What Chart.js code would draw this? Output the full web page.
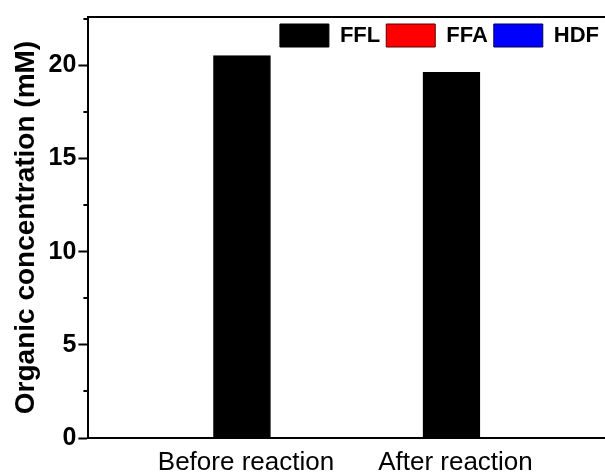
<!DOCTYPE html>
<html>
<head>
<meta charset="utf-8">
<script src="https://cdn.jsdelivr.net/npm/chart.js@4.4.1/dist/chart.umd.min.js"></script>
<style>
  html, body { margin: 0; padding: 0; background: #fff; overflow: hidden; }
  #wrap { width: 605px; height: 476px; }
</style>
</head>
<body>
<div id="wrap"><canvas id="c" width="605" height="476"></canvas></div>
<script>
// ---- data ----
const categories = ["Before reaction", "After reaction"];
const categoryPositions = [1, 2];
const seriesNames = ["FFL", "FFA", "HDF"];
const ffl = [20.53, 19.63];
const ffa = [0, 0];
const hdf = [0, 0];
const yMajorTicks = [0, 5, 10, 15, 20];
const yTitle = "Organic concentration (mM)";

const FONT = "'Liberation Sans', Arial, sans-serif";

function pts(vals) {
  return vals.map((v, i) => ({ x: categoryPositions[i], y: v }));
}

// minor ticks between major ticks, drawn through the y scale
const minorTicks = {
  id: 'minorTicks',
  afterDatasetsDraw(chart) {
    const y = chart.scales.y;
    const ctx = chart.ctx;
    const left = chart.chartArea.left;
    ctx.save();
    ctx.strokeStyle = '#000';
    ctx.lineWidth = 2;
    for (let i = 0; i < yMajorTicks.length; i++) {
      const v = yMajorTicks[i] + 2.5;
      if (v > y.max) continue;
      const p = Math.round(y.getPixelForValue(v));
      ctx.beginPath();
      ctx.moveTo(left - 5, p);
      ctx.lineTo(left, p);
      ctx.stroke();
    }
    ctx.restore();
  }
};

// legend sits inside the plot frame: it takes no layout height,
// then is moved to the top of the chart area after layout
const legendInside = {
  id: 'legendInside',
  beforeInit(chart) {
    const lg = chart.legend;
    if (!lg) return;
    const origFit = lg.fit;
    lg.fit = function () {
      origFit.call(this);
      this._realHeight = this.height;
      this.height = 0;
    };
  },
  afterLayout(chart) {
    const lg = chart.legend;
    if (!lg || lg._realHeight === undefined) return;
    lg.top = chart.chartArea.top + 1;
    lg.height = lg._realHeight;
    lg.bottom = lg.top + lg.height;
    if (lg.adjustHitBoxes) lg.adjustHitBoxes();
  }
};

const common = { grouped: false, barThickness: 57, borderSkipped: 'start' };

new Chart(document.getElementById('c'), {
  type: 'bar',
  data: {
    datasets: [
      Object.assign({ label: seriesNames[0], data: pts(ffl), backgroundColor: '#000000', borderColor: '#000000', borderWidth: 1 }, common),
      Object.assign({ label: seriesNames[1], data: pts(ffa), backgroundColor: '#ff0000', borderColor: '#5a0000', borderWidth: 1 }, common),
      Object.assign({ label: seriesNames[2], data: pts(hdf), backgroundColor: '#0000ff', borderColor: '#00005a', borderWidth: 1 }, common)
    ]
  },
  options: {
    responsive: false,
    animation: false,
    devicePixelRatio: 1,
    layout: { padding: { left: 5, right: 0, top: 16, bottom: 0 } },
    plugins: {
      tooltip: { enabled: false },
      legend: {
        position: 'top',
        align: 'end',
        labels: {
          color: '#000',
          boxWidth: 49,
          boxHeight: 23,
          padding: 6,
          font: { family: FONT, size: 22, weight: 'bold' }
        }
      }
    },
    scales: {
      x: {
        type: 'linear',
        min: 0.267,
        max: 2.733,
        offset: false,
        grid: { display: false, drawTicks: false },
        border: { display: true, color: '#000', width: 2 },
        afterBuildTicks(scale) {
          scale.ticks = categoryPositions.map(v => ({ value: v }));
        },
        afterFit(scale) { scale.height = 38; },
        ticks: {
          color: '#000',
          padding: 9,
          labelOffset: 4,
          autoSkip: false,
          maxRotation: 0,
          font: { family: FONT, size: 26 },
          callback(value) {
            const i = categoryPositions.indexOf(value);
            return i >= 0 ? categories[i] : '';
          }
        }
      },
      xTop: {
        type: 'linear',
        position: 'top',
        min: 0.267,
        max: 2.733,
        grid: { display: false, drawTicks: false },
        border: { display: true, color: '#000', width: 2 },
        ticks: { display: false }
      },
      y: {
        type: 'linear',
        min: 0,
        max: 22.6,
        afterBuildTicks(scale) {
          scale.ticks = yMajorTicks.map(v => ({ value: v }));
        },
        grid: {
          display: true,
          drawOnChartArea: false,
          drawTicks: true,
          tickLength: 10,
          tickWidth: 2,
          tickColor: '#000'
        },
        border: { display: true, color: '#000', width: 2 },
        ticks: {
          color: '#000',
          padding: 2,
          font: { family: FONT, size: 25, weight: 'bold' }
        },
        title: {
          display: true,
          text: yTitle,
          color: '#000',
          padding: { top: 4, bottom: 4 },
          font: { family: FONT, size: 28, weight: 'bold' }
        }
      }
    }
  },
  plugins: [minorTicks, legendInside]
});
</script>
</body>
</html>
